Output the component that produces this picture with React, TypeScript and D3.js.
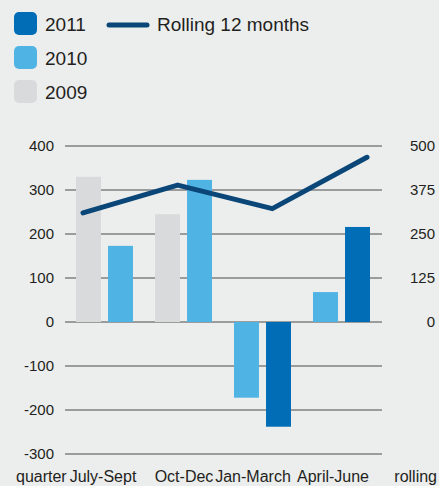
import React from "react";
import * as d3 from "d3";

const quarters = ["July-Sept", "Oct-Dec", "Jan-March", "April-June"];
const prevYear = ["2009", "2009", "2010", "2010"];
const currYear = ["2010", "2010", "2011", "2011"];
const prevValues = [330, 245, -172, 68];
const currValues = [173, 323, -238, 216];
const rolling12 = [310, 389, 322, 468];
const leftTicks = [-300, -200, -100, 0, 100, 200, 300, 400];
const rightTicks = [0, 125, 250, 375, 500];
const legendYears = ["2011", "2010", "2009"];

const colors: Record<string, string> = {
  "2009": "#d9dadc",
  "2010": "#4fb4e4",
  "2011": "#006db6",
};
const lineColor = "#0a4677";
const textColor = "#231f20";
const font = "'Liberation Sans', Arial, Helvetica, sans-serif";

// nudges for the squeezed x labels, as in the original artwork
const labelShift = [-1.5, 0.5, -9.5, -8.5];

const W = 439;
const H = 486;

export default function App() {
  const x0 = d3.scaleBand<string>().domain(quarters).range([65, 381]).padding(0);
  const x1 = d3
    .scaleBand<string>()
    .domain(["prev", "curr"])
    .range([11, x0.bandwidth() - 11])
    .paddingInner(0.22);
  const y = d3.scaleLinear().domain([-300, 400]).range([454, 146]);
  const yR = d3.scaleLinear().domain([0, 500]).range([322, 146]);
  const xLine = d3.scalePoint<string>().domain(quarters).range([83, 367]);

  const line = d3
    .line<number>()
    .x((_, i) => xLine(quarters[i])!)
    .y((d) => yR(d));

  const bar = (q: string, key: string, v: number, year: string) => (
    <rect
      key={q + key}
      x={x0(q)! + x1(key)!}
      width={x1.bandwidth()}
      y={y(Math.max(0, v))}
      height={Math.abs(y(v) - y(0))}
      fill={colors[year]}
    />
  );

  return (
    <svg
      width={W}
      height={H}
      style={{ position: "absolute", left: 0, top: 0, background: "#eceded" }}
      fontFamily={font}
    >
      {/* legend */}
      <g>
        {legendYears.map((yr, i) => (
          <g key={yr} transform={`translate(14, ${12 + i * 34})`}>
            <rect width={23} height={23} rx={5} fill={colors[yr]} />
            <text x={31} y={18.5} fontSize={19} fill={textColor}>
              {yr}
            </text>
          </g>
        ))}
        <line
          x1={109}
          x2={147}
          y1={25}
          y2={25}
          stroke={lineColor}
          strokeWidth={5}
          strokeLinecap="round"
        />
        <text x={157} y={30.5} fontSize={19} fill={textColor}>
          Rolling 12 months
        </text>
      </g>

      {/* grid */}
      {leftTicks.map((t) => (
        <g key={t}>
          <line x1={65} x2={382} y1={y(t)} y2={y(t)} stroke="#4a4a4a" strokeWidth={1} />
          <text
            x={54}
            y={y(t) + 5}
            textAnchor="end"
            fontSize={15}
            fill={textColor}
          >
            {t}
          </text>
        </g>
      ))}
      {rightTicks.map((t) => (
        <text
          key={t}
          x={435}
          y={yR(t) + 5}
          textAnchor="end"
          fontSize={15}
          fill={textColor}
        >
          {t}
        </text>
      ))}

      {/* bars */}
      {quarters.map((q, i) => (
        <g key={q}>
          {bar(q, "prev", prevValues[i], prevYear[i])}
          {bar(q, "curr", currValues[i], currYear[i])}
        </g>
      ))}

      {/* rolling line */}
      <path
        d={line(rolling12) || ""}
        fill="none"
        stroke={lineColor}
        strokeWidth={5}
        strokeLinecap="round"
        strokeLinejoin="round"
      />

      {/* x labels */}
      <text x={16} y={482} fontSize={16} fill={textColor}>
        quarter
      </text>
      {quarters.map((q, i) => (
        <text
          key={q}
          x={x0(q)! + x0.bandwidth() / 2 + labelShift[i]}
          y={482}
          textAnchor="middle"
          fontSize={16}
          fill={textColor}
        >
          {q}
        </text>
      ))}
      <text x={437} y={482} textAnchor="end" fontSize={16} fill={textColor}>
        rolling
      </text>
    </svg>
  );
}
